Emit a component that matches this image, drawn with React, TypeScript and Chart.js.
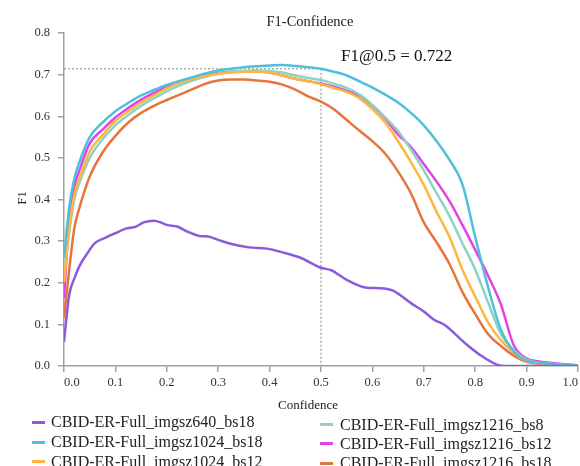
import React, { useEffect, useRef } from "react";
import { Chart, registerables } from "chart.js";

Chart.register(...registerables);

// ---- data ----
const confidence = [0, 0.01, 0.02, 0.03, 0.05, 0.075, 0.1, 0.125, 0.15, 0.175, 0.2, 0.225, 0.25, 0.275, 0.3, 0.325, 0.35, 0.375, 0.4, 0.425, 0.45, 0.475, 0.5, 0.525, 0.55, 0.575, 0.6, 0.625, 0.65, 0.675, 0.7, 0.725, 0.75, 0.775, 0.8, 0.825, 0.85, 0.875, 0.9, 0.925, 0.95, 0.975, 1.0];

const f1_1024_bs18 = [0.26, 0.38, 0.45, 0.49, 0.55, 0.585, 0.612, 0.632, 0.65, 0.663, 0.675, 0.685, 0.694, 0.703, 0.71, 0.714, 0.718, 0.72, 0.722, 0.723, 0.721, 0.718, 0.714, 0.707, 0.698, 0.684, 0.669, 0.652, 0.633, 0.608, 0.578, 0.54, 0.495, 0.437, 0.31, 0.19, 0.087, 0.035, 0.013, 0.008, 0.005, 0.003, 0.001];
const f1_1216_bs12 = [0.163, 0.35, 0.43, 0.47, 0.535, 0.568, 0.597, 0.62, 0.64, 0.656, 0.671, 0.683, 0.692, 0.699, 0.704, 0.707, 0.708, 0.709, 0.705, 0.698, 0.69, 0.684, 0.679, 0.671, 0.661, 0.648, 0.625, 0.594, 0.556, 0.526, 0.485, 0.443, 0.396, 0.339, 0.279, 0.217, 0.148, 0.05, 0.018, 0.011, 0.007, 0.004, 0.002];
const f1_1024_bs12 = [0.2, 0.33, 0.41, 0.45, 0.515, 0.555, 0.588, 0.612, 0.633, 0.65, 0.667, 0.68, 0.69, 0.697, 0.702, 0.705, 0.707, 0.707, 0.705, 0.698, 0.69, 0.684, 0.677, 0.668, 0.658, 0.643, 0.617, 0.585, 0.54, 0.49, 0.435, 0.37, 0.31, 0.232, 0.167, 0.105, 0.062, 0.032, 0.012, 0.007, 0.004, 0.002, 0.001];
const f1_1216_bs8 = [0.22, 0.32, 0.4, 0.44, 0.5, 0.545, 0.578, 0.603, 0.625, 0.643, 0.66, 0.674, 0.686, 0.695, 0.702, 0.707, 0.709, 0.71, 0.709, 0.705, 0.698, 0.692, 0.687, 0.678, 0.668, 0.652, 0.627, 0.597, 0.564, 0.52, 0.47, 0.415, 0.36, 0.295, 0.232, 0.153, 0.077, 0.038, 0.015, 0.008, 0.005, 0.003, 0.001];
const f1_1216_bs18 = [0.115, 0.23, 0.33, 0.38, 0.455, 0.513, 0.553, 0.585, 0.608, 0.625, 0.639, 0.652, 0.665, 0.678, 0.686, 0.688, 0.688, 0.686, 0.683, 0.676, 0.664, 0.648, 0.635, 0.617, 0.591, 0.565, 0.54, 0.51, 0.467, 0.415, 0.345, 0.297, 0.245, 0.178, 0.125, 0.077, 0.048, 0.025, 0.01, 0.005, 0.002, 0.001, 0];

const confidence640 = [0, 0.01, 0.02, 0.03, 0.045, 0.06, 0.08, 0.1, 0.12, 0.14, 0.155, 0.175, 0.19, 0.2, 0.22, 0.24, 0.265, 0.28, 0.3, 0.32, 0.36, 0.395, 0.425, 0.46, 0.5, 0.52, 0.55, 0.59, 0.615, 0.64, 0.675, 0.7, 0.72, 0.74, 0.78, 0.81, 0.845, 0.86, 1.0];
const f1_640_bs18 = [0.058, 0.17, 0.21, 0.24, 0.27, 0.295, 0.308, 0.319, 0.33, 0.335, 0.345, 0.349, 0.344, 0.339, 0.335, 0.323, 0.312, 0.311, 0.303, 0.295, 0.285, 0.282, 0.273, 0.26, 0.236, 0.23, 0.207, 0.188, 0.187, 0.181, 0.151, 0.131, 0.111, 0.099, 0.055, 0.026, 0.002, 0, 0];

const xTicks = [0, 0.1, 0.2, 0.3, 0.4, 0.5, 0.6, 0.7, 0.8, 0.9, 1.0];
const yTicks = [0, 0.1, 0.2, 0.3, 0.4, 0.5, 0.6, 0.7, 0.8];

const markConf = 0.5;
const markF1 = 0.714;
const annotationText = "F1@0.5 = 0.722";
const annotationPos = { x: 0.539, y: 0.7435 };

const titleText = "F1-Confidence";
const xTitle = "Confidence";
const yTitle = "F1";

const seriesNames = [
  "CBID-ER-Full_imgsz640_bs18",
  "CBID-ER-Full_imgsz1024_bs18",
  "CBID-ER-Full_imgsz1024_bs12",
  "CBID-ER-Full_imgsz1216_bs8",
  "CBID-ER-Full_imgsz1216_bs12",
  "CBID-ER-Full_imgsz1216_bs18",
];
const seriesColors = ["#8a5cdb", "#4fc0db", "#fdb740", "#8dd3c2", "#e043e6", "#e8743b"];

const FONT = '"Liberation Serif", "Times New Roman", serif';
const AXIS_COLOR = "#a0a0a0";

function pts(xs: number[], ys: number[]) {
  return xs.map((x, i) => ({ x, y: ys[i] }));
}

const overlayPlugin = {
  id: "overlay",
  beforeDatasetsDraw(chart: any) {
    const { ctx, chartArea } = chart;
    const x = chart.scales.x;
    const y = chart.scales.y;
    const px = x.getPixelForValue(markConf);
    const py = y.getPixelForValue(markF1);
    ctx.save();
    ctx.strokeStyle = "#888";
    ctx.lineWidth = 1;
    ctx.setLineDash([2, 2]);
    ctx.beginPath();
    ctx.moveTo(chartArea.left, py);
    ctx.lineTo(px, py);
    ctx.moveTo(px, py);
    ctx.lineTo(px, chartArea.bottom);
    ctx.stroke();
    ctx.restore();
  },
  afterDraw(chart: any) {
    const { ctx, chartArea } = chart;
    const x = chart.scales.x;
    const y = chart.scales.y;
    ctx.save();
    ctx.font = `12.5px ${FONT}`;
    ctx.fillStyle = "#333";
    ctx.textAlign = "center";
    ctx.textBaseline = "middle";
    x.ticks.forEach((t: any) => {
      const label = Number(t.value).toFixed(1);
      const w = ctx.measureText(label).width;
      let cx = x.getPixelForValue(t.value);
      cx = Math.min(Math.max(cx, x.left + w / 2), x.right - w / 2);
      ctx.fillText(label, cx, chartArea.bottom + 17);
    });
    ctx.font = `17px ${FONT}`;
    ctx.fillStyle = "#111";
    ctx.textAlign = "left";
    ctx.fillText(annotationText, x.getPixelForValue(annotationPos.x), y.getPixelForValue(annotationPos.y));
    ctx.restore();
  },
};

export default function App() {
  const ref = useRef<HTMLCanvasElement | null>(null);

  useEffect(() => {
    if (!ref.current) return;
    const dataSets = [
      pts(confidence640, f1_640_bs18),
      pts(confidence, f1_1024_bs18),
      pts(confidence, f1_1024_bs12),
      pts(confidence, f1_1216_bs8),
      pts(confidence, f1_1216_bs12),
      pts(confidence, f1_1216_bs18),
    ];
    const chart = new Chart(ref.current, {
      type: "line",
      data: {
        datasets: dataSets.map((d, i) => ({
          label: seriesNames[i],
          data: d,
          borderColor: seriesColors[i],
          backgroundColor: seriesColors[i],
          borderWidth: 2.5,
          pointRadius: 0,
          cubicInterpolationMode: "monotone" as const,
          fill: false,
        })),
      },
      options: {
        animation: false,
        responsive: false,
        devicePixelRatio: 1,
        layout: { padding: { top: 33, right: 2, left: 0, bottom: 0 } },
        plugins: { legend: { display: false }, tooltip: { enabled: false }, title: { display: false } },
        scales: {
          x: {
            type: "linear",
            min: 0,
            max: 1,
            afterBuildTicks: (s: any) => {
              s.ticks = xTicks.map((v) => ({ value: v }));
            },
            ticks: { display: false },
            grid: { drawOnChartArea: false, drawTicks: true, tickLength: 6, color: AXIS_COLOR, lineWidth: 1.5 },
            border: { display: true, color: AXIS_COLOR, width: 1.5 },
            afterFit: (s: any) => {
              s.height = 100;
              s.paddingLeft = 0;
              s.paddingRight = 0;
            },
          },
          y: {
            type: "linear",
            min: 0,
            max: 0.8,
            afterBuildTicks: (s: any) => {
              s.ticks = yTicks.map((v) => ({ value: v }));
            },
            ticks: {
              callback: (v: any) => Number(v).toFixed(1),
              font: { family: FONT, size: 12.5 },
              color: "#333",
              padding: 8,
            },
            grid: { drawOnChartArea: false, drawTicks: true, tickLength: 6, color: AXIS_COLOR, lineWidth: 1.5 },
            border: { display: true, color: AXIS_COLOR, width: 1.5 },
            afterFit: (s: any) => {
              s.width = 64;
              s.paddingTop = 0;
              s.paddingBottom = 0;
            },
          },
        },
      },
      plugins: [overlayPlugin],
    });
    return () => chart.destroy();
  }, []);

  const textBase: React.CSSProperties = {
    position: "absolute",
    fontFamily: FONT,
    color: "#222",
    whiteSpace: "nowrap",
    lineHeight: 1,
  };

  const legendLeft = [0, 1, 2];
  const legendRight = [3, 4, 5];
  const leftRowsY = [422, 442, 461.5];
  const rightRowsY = [424.5, 443.5, 463];

  return (
    <div style={{ position: "absolute", left: 0, top: 0, width: 580, height: 466, overflow: "hidden", background: "#fff" }}>
      <canvas ref={ref} width={580} height={466} style={{ position: "absolute", left: 0, top: 0, width: 580, height: 466 }} />
      <div style={{ ...textBase, left: 310, top: 21, fontSize: 14.5, transform: "translate(-50%, -50%)" }}>{titleText}</div>
      <div style={{ ...textBase, left: 308, top: 404, fontSize: 13, transform: "translate(-50%, -50%)" }}>{xTitle}</div>
      <div style={{ ...textBase, left: 21, top: 198, fontSize: 13, transform: "translate(-50%, -50%) rotate(-90deg)" }}>{yTitle}</div>
      {legendLeft.map((si, r) => (
        <React.Fragment key={si}>
          <div style={{ position: "absolute", left: 31.5, top: leftRowsY[r] - 1.5, width: 13, height: 3, background: seriesColors[si] }} />
          <div style={{ ...textBase, left: 51, top: leftRowsY[r], fontSize: 16, transform: "translateY(-50%)" }}>{seriesNames[si]}</div>
        </React.Fragment>
      ))}
      {legendRight.map((si, r) => (
        <React.Fragment key={si}>
          <div style={{ position: "absolute", left: 320, top: rightRowsY[r] - 1.5, width: 13, height: 3, background: seriesColors[si] }} />
          <div style={{ ...textBase, left: 340, top: rightRowsY[r], fontSize: 16, transform: "translateY(-50%)" }}>{seriesNames[si]}</div>
        </React.Fragment>
      ))}
    </div>
  );
}
